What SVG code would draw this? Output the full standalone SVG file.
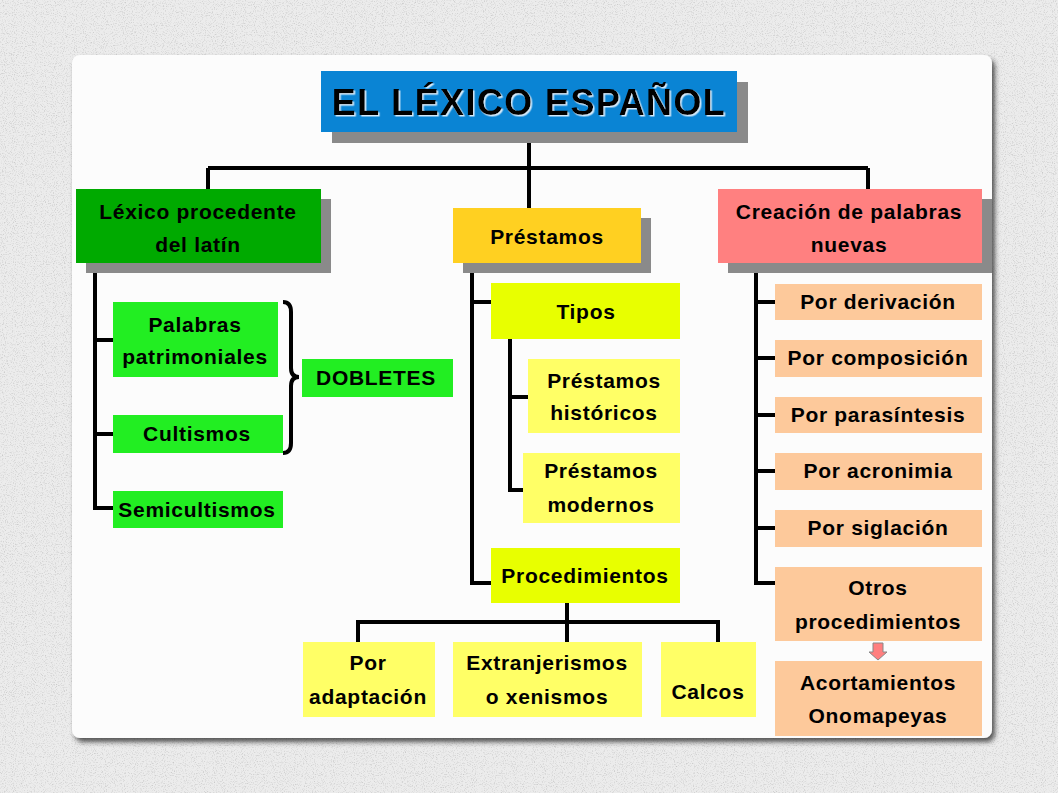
<svg xmlns="http://www.w3.org/2000/svg" width="1058" height="793" viewBox="0 0 1058 793">
<defs>
<filter id="noise" x="0" y="0" width="100%" height="100%">
<feTurbulence type="fractalNoise" baseFrequency="0.9" numOctaves="2" seed="3" result="n"/>
<feColorMatrix in="n" type="matrix" values="0 0 0 0 0.55  0 0 0 0 0.55  0 0 0 0 0.55  0 0 0 -2.2 1.1" result="d"/>
<feComposite in="d" in2="SourceGraphic" operator="in"/>
</filter>
<filter id="pshadow" x="-5%" y="-5%" width="110%" height="110%">
<feDropShadow dx="3" dy="4" stdDeviation="2.5" flood-color="#333" flood-opacity="0.8"/>
</filter>
<filter id="tshadow" x="-5%" y="-20%" width="110%" height="140%">
<feDropShadow dx="1.5" dy="1.5" stdDeviation="0.3" flood-color="#e8f4ff" flood-opacity="0.9"/>
</filter>
</defs>
<style>
text{font-family:"Comic Sans MS","Liberation Sans","DejaVu Sans",sans-serif;font-weight:bold;font-size:21px;letter-spacing:0.7px;fill:#000;text-anchor:middle}
text.title{font-size:36px;letter-spacing:1.4px}
.sh{fill:#8a8a8a}
.ln{fill:none;stroke:#000;stroke-width:4}
.green{fill:#00aa00}
.lgreen{fill:#22ee22}
.yel{fill:#ffd021}
.lime{fill:#e8ff00}
.ly{fill:#ffff66}
.pink{fill:#ff8080}
.peach{fill:#fdc99b}
</style>
<rect x="0" y="0" width="1058" height="793" fill="#ececec"/>
<rect x="0" y="0" width="1058" height="793" fill="#ececec" filter="url(#noise)"/>
<rect x="72" y="55" width="920" height="683" rx="8" fill="#fcfcfc" filter="url(#pshadow)"/>

<g id="connectors">
<path class="ln" d="M529,132 V168 M208,168 H868 M208,168 V189 M529,168 V208 M868,168 V189"/>
<path class="ln" d="M95,263 V508 H113 M95,340 H113 M95,434 H113"/>
<path class="ln" d="M283,302 Q291,302 291,312 V368 Q291,377 299,377 Q291,377 291,386 V443 Q291,453 283,453" stroke-width="3"/>
<path class="ln" d="M472,263 V583 H491 M472,302 H491"/>
<path class="ln" d="M510,339 V490 H523 M510,397 H528"/>
<path class="ln" d="M567,603 V642 M358,642 V622 H718 V642"/>
<path class="ln" d="M756,263 V583 H775 M756,302 H775 M756,358 H775 M756,415 H775 M756,471 H775 M756,528 H775"/>
<path d="M873,643 H883 V652 H887 L878,660 L869,652 H873 Z" fill="#ff7f7f" stroke="#888" stroke-width="1"/>
</g>

<g id="title">
<rect class="sh" x="332" y="82" width="416" height="61"/>
<rect x="321" y="71" width="416" height="61" fill="#0a84d4"/>
<text class="title" x="529" y="115" filter="url(#tshadow)">EL LÉXICO ESPAÑOL</text>
</g>

<g id="lexico-latin">
<rect class="sh" x="86" y="199" width="245" height="74"/>
<rect class="green" x="76" y="189" width="245" height="74"/>
<text x="198" y="219">Léxico procedente</text>
<text x="198" y="252">del latín</text>
</g>

<g id="prestamos">
<rect class="sh" x="463" y="218" width="188" height="55"/>
<rect class="yel" x="453" y="208" width="188" height="55"/>
<text x="547" y="244">Préstamos</text>
</g>

<g id="creacion">
<rect class="sh" x="728" y="199" width="264" height="74"/>
<rect class="pink" x="718" y="189" width="264" height="74"/>
<text x="849" y="219">Creación de palabras</text>
<text x="849" y="252">nuevas</text>
</g>

<g id="patrimoniales">
<rect class="lgreen" x="113" y="302" width="165" height="75"/>
<text x="195" y="332">Palabras</text>
<text x="195" y="364">patrimoniales</text>
</g>
<g id="cultismos">
<rect class="lgreen" x="113" y="415" width="170" height="38"/>
<text x="197" y="441">Cultismos</text>
</g>
<g id="semicultismos">
<rect class="lgreen" x="113" y="491" width="170" height="37"/>
<text x="197" y="517">Semicultismos</text>
</g>
<g id="dobletes">
<rect class="lgreen" x="302" y="359" width="151" height="38"/>
<text x="376" y="385">DOBLETES</text>
</g>

<g id="tipos">
<rect class="lime" x="491" y="283" width="189" height="56"/>
<text x="586" y="319">Tipos</text>
</g>
<g id="historicos">
<rect class="ly" x="528" y="359" width="152" height="74"/>
<text x="604" y="388">Préstamos</text>
<text x="604" y="420">históricos</text>
</g>
<g id="modernos">
<rect class="ly" x="523" y="453" width="157" height="70"/>
<text x="601" y="478">Préstamos</text>
<text x="601" y="512">modernos</text>
</g>
<g id="procedimientos">
<rect class="lime" x="491" y="548" width="189" height="55"/>
<text x="585" y="583">Procedimientos</text>
</g>

<g id="adaptacion">
<rect class="ly" x="303" y="642" width="132" height="75"/>
<text x="368" y="670">Por</text>
<text x="368" y="704">adaptación</text>
</g>
<g id="extranjerismos">
<rect class="ly" x="453" y="642" width="189" height="75"/>
<text x="547" y="670">Extranjerismos</text>
<text x="547" y="704">o xenismos</text>
</g>
<g id="calcos">
<rect class="ly" x="661" y="642" width="95" height="75"/>
<text x="708" y="699">Calcos</text>
</g>

<g id="derivacion">
<rect class="peach" x="775" y="284" width="207" height="36"/>
<text x="878" y="309">Por derivación</text>
</g>
<g id="composicion">
<rect class="peach" x="775" y="340" width="207" height="37"/>
<text x="878" y="365">Por composición</text>
</g>
<g id="parasintesis">
<rect class="peach" x="775" y="397" width="207" height="36"/>
<text x="878" y="422">Por parasíntesis</text>
</g>
<g id="acronimia">
<rect class="peach" x="775" y="453" width="207" height="37"/>
<text x="878" y="478">Por acronimia</text>
</g>
<g id="siglacion">
<rect class="peach" x="775" y="510" width="207" height="37"/>
<text x="878" y="535">Por siglación</text>
</g>
<g id="otros">
<rect class="peach" x="775" y="567" width="207" height="74"/>
<text x="878" y="595">Otros</text>
<text x="878" y="629">procedimientos</text>
</g>
<g id="acortamientos">
<rect class="peach" x="775" y="661" width="207" height="75"/>
<text x="878" y="690">Acortamientos</text>
<text x="878" y="723">Onomapeyas</text>
</g>
</svg>
